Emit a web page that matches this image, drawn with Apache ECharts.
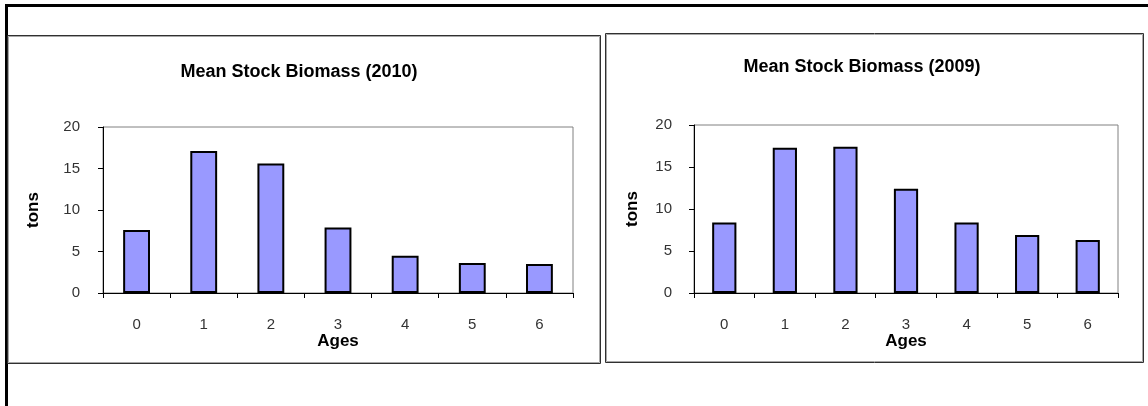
<!DOCTYPE html>
<html>
<head>
<meta charset="utf-8">
<style>
  html, body { margin: 0; padding: 0; background: #fff; }
  #chart { width: 1148px; height: 406px; }
</style>
<script src="https://cdn.jsdelivr.net/npm/echarts@6/dist/echarts.min.js"></script>
</head>
<body>
<div id="chart"></div>
<script>
// Age classes shared by both panels
const ages = ['0', '1', '2', '3', '4', '5', '6'];
// Mean stock biomass per age class (tons)
const biomass2010 = [7.6, 17.1, 15.6, 7.9, 4.5, 3.6, 3.5];
const biomass2009 = [8.4, 17.3, 17.4, 12.4, 8.4, 6.9, 6.3];
const titles = ['Mean Stock Biomass (2010)', 'Mean Stock Biomass (2009)'];
const yLabelName = 'tons';
const xLabelName = 'Ages';

const FONT = 'Liberation Sans, Arial, sans-serif';
const BAR_FILL = '#9999FF';

function xAxisFor(gridIndex, nameGap) {
  return {
    type: 'category',
    gridIndex: gridIndex,
    data: ages,
    boundaryGap: true,
    name: xLabelName,
    nameLocation: 'middle',
    nameGap: nameGap,
    nameTextStyle: { fontFamily: FONT, fontSize: 17, fontWeight: 'bold', color: '#000' },
    axisLine: { show: true, lineStyle: { color: '#000', width: 1 } },
    axisTick: { show: true, alignWithLabel: false, length: 5, lineStyle: { color: '#000' } },
    axisLabel: { margin: 24, fontFamily: FONT, fontSize: 15, color: '#333' },
    splitLine: { show: false }
  };
}

function yAxisFor(gridIndex, nameGap, labelMargin) {
  return {
    type: 'value',
    gridIndex: gridIndex,
    min: 0,
    max: 20,
    interval: 5,
    name: yLabelName,
    nameLocation: 'middle',
    nameRotate: 90,
    nameGap: nameGap,
    nameTextStyle: { fontFamily: FONT, fontSize: 17, fontWeight: 'bold', color: '#000' },
    axisLine: { show: true, lineStyle: { color: '#000', width: 1 } },
    axisTick: { show: true, length: 5, lineStyle: { color: '#000' } },
    axisLabel: { margin: labelMargin, fontFamily: FONT, fontSize: 15, color: '#333' },
    splitLine: { show: false }
  };
}

function barSeries(idx, values) {
  return {
    type: 'bar',
    xAxisIndex: idx,
    yAxisIndex: idx,
    data: values,
    barWidth: '40%',
    itemStyle: { color: BAR_FILL, borderColor: '#000', borderWidth: 2 },
    emphasis: { disabled: true },
    animation: false
  };
}

// Panel frames: a dark outer line with a lighter inner line
function panelFrame(x1, y1, x2, y2) {
  return [
    { type: 'rect', shape: { x: x1 + 0.5, y: y1 + 0.5, width: x2 - x1, height: y2 - y1 },
      style: { fill: null, stroke: '#303030', lineWidth: 1 }, silent: true },
    { type: 'rect', shape: { x: x1 + 1.5, y: y1 + 1.5, width: x2 - x1 - 2, height: y2 - y1 - 2 },
      style: { fill: null, stroke: '#a8a8a8', lineWidth: 1 }, silent: true }
  ];
}

const chart = echarts.init(document.getElementById('chart'), null, { renderer: 'canvas' });

const titleStyle = { fontFamily: FONT, fontSize: 18, fontWeight: 'bold', color: '#000' };

chart.setOption({
  backgroundColor: '#fff',
  animation: false,
  title: [
    { text: titles[0], left: 294, top: 58, textAlign: 'center', textStyle: titleStyle },
    { text: titles[1], left: 857, top: 53, textAlign: 'center', textStyle: titleStyle }
  ],
  grid: [
    { left: 103, top: 127, width: 470, height: 166, show: true, borderColor: '#808080', borderWidth: 1, backgroundColor: 'transparent' },
    { left: 694, top: 125, width: 424, height: 168, show: true, borderColor: '#808080', borderWidth: 1, backgroundColor: 'transparent' }
  ],
  xAxis: [xAxisFor(0, 35), xAxisFor(1, 32)],
  yAxis: [yAxisFor(0, 61, 23), yAxisFor(1, 53, 22)],
  series: [barSeries(0, biomass2010), barSeries(1, biomass2009)],
  graphic: [
    // outer heavy frame: top and left edges
    { type: 'rect', shape: { x: 5, y: 4, width: 1143, height: 3 }, style: { fill: '#000' }, silent: true },
    { type: 'rect', shape: { x: 5, y: 4, width: 3, height: 402 }, style: { fill: '#000' }, silent: true },
    ...panelFrame(7, 35, 600, 363),
    ...panelFrame(605, 33, 1143, 362)
  ]
});
</script>
</body>
</html>
